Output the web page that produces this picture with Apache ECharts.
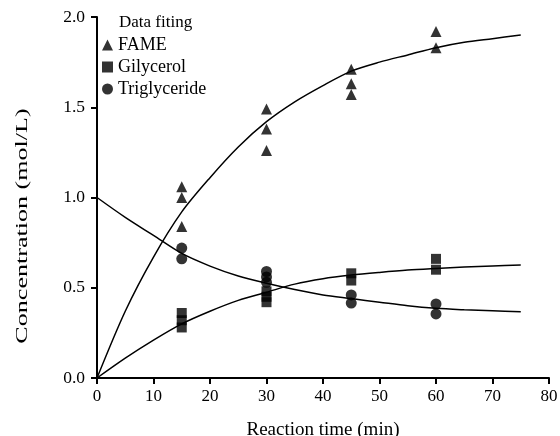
<!DOCTYPE html>
<html>
<head>
<meta charset="utf-8">
<script src="https://cdn.jsdelivr.net/npm/echarts@6/dist/echarts.min.js"></script>
<style>
  html, body { margin: 0; padding: 0; background: #fff; }
  #chart { width: 560px; height: 436px; }
</style>
</head>
<body>
<div id="chart"></div>
<script>
// measured points (time in min, concentration in mol/L)
const fameTime = [15, 15, 15, 30, 30, 30, 45, 45, 45, 60, 60]
const fameConc = [1.06, 1.00, 0.84, 1.49, 1.38, 1.26, 1.71, 1.63, 1.57, 1.92, 1.83]
const glyTime = [15, 15, 15, 30, 30, 30, 45, 45, 60, 60]
const glyConc = [0.36, 0.32, 0.28, 0.48, 0.45, 0.42, 0.58, 0.54, 0.66, 0.60]
const triTime = [15, 15, 30, 30, 30, 45, 45, 60, 60]
const triConc = [0.72, 0.66, 0.59, 0.56, 0.53, 0.46, 0.415, 0.41, 0.355]

// fitted curves, every 5 min
const fitTime = [0, 5, 10, 15, 20, 25, 30, 35, 40, 45, 50, 55, 60, 65, 70, 75]
const fitFame = [0, 0.37, 0.67, 0.92, 1.11, 1.28, 1.42, 1.53, 1.62, 1.70, 1.75, 1.79, 1.83, 1.86, 1.88, 1.90]
const fitGly = [0, 0.11, 0.21, 0.30, 0.37, 0.43, 0.475, 0.52, 0.55, 0.57, 0.585, 0.598, 0.607, 0.615, 0.621, 0.626]
const fitTri = [1.0, 0.89, 0.79, 0.69, 0.62, 0.565, 0.525, 0.49, 0.46, 0.44, 0.42, 0.40, 0.386, 0.378, 0.372, 0.367]

const xTicks = [0, 10, 20, 30, 40, 50, 60, 70, 80]
const yTicks = [0, 0.5, 1.0, 1.5, 2.0]

const font = 'Liberation Serif'
const zip = (xs, ys) => xs.map((x, i) => [x, ys[i]])

const chart = echarts.init(document.getElementById('chart'))

const axisCommon = {
  axisLine: { show: true, lineStyle: { color: '#000', width: 2 } },
  axisTick: { show: true, length: 6, lineStyle: { color: '#000', width: 2 } },
  splitLine: { show: false }
}

const option = {
  animation: false,
  backgroundColor: '#fff',
  grid: { left: 97, right: 11, top: 17, bottom: 58, outerBoundsMode: 'none' },
  legend: {
    data: ['FAME', 'Gilycerol', 'Triglyceride'],
    orient: 'vertical',
    left: 102,
    top: 36,
    padding: 0,
    itemWidth: 11,
    itemHeight: 11,
    itemGap: 4,
    textStyle: { color: '#000', fontFamily: font, fontSize: 18 },
    selectedMode: false
  },
  graphic: [
    {
      type: 'text',
      left: 119,
      top: 14,
      style: { text: 'Data fiting', fill: '#000', font: '17px "Liberation Serif"' }
    },
    {
      // y axis title, drawn long and narrow like the source figure
      type: 'text',
      x: 23,
      y: 226,
      rotation: Math.PI / 2,
      scaleX: 1.58,
      style: {
        text: 'Concentration (mol/L)', fill: '#000',
        font: '16.5px "Liberation Serif"', align: 'center', verticalAlign: 'middle'
      }
    }
  ],
  xAxis: Object.assign({}, axisCommon, {
    type: 'value',
    min: xTicks[0],
    max: xTicks[xTicks.length - 1],
    interval: 10,
    name: 'Reaction time (min)',
    nameLocation: 'middle',
    nameGap: 43,
    nameTextStyle: { color: '#000', fontFamily: font, fontSize: 19 },
    axisLabel: { color: '#000', fontFamily: font, fontSize: 17, margin: 10 }
  }),
  yAxis: Object.assign({}, axisCommon, {
    type: 'value',
    min: yTicks[0],
    max: yTicks[yTicks.length - 1],
    interval: 0.5,
    axisLabel: { color: '#000', fontFamily: font, fontSize: 17.5, margin: 12, formatter: v => v.toFixed(1) }
  }),
  series: [
    {
      name: 'FAME', type: 'scatter', symbol: 'triangle', symbolSize: 11,
      itemStyle: { color: '#000' }, data: zip(fameTime, fameConc), z: 3
    },
    {
      name: 'Gilycerol', type: 'scatter', symbol: 'rect', symbolSize: 10,
      itemStyle: { color: '#000' }, data: zip(glyTime, glyConc), z: 3
    },
    {
      name: 'Triglyceride', type: 'scatter', symbol: 'circle', symbolSize: 11,
      itemStyle: { color: '#000' }, data: zip(triTime, triConc), z: 3
    },
    {
      name: 'FAME fit', type: 'line', smooth: 0.3, showSymbol: false,
      lineStyle: { color: '#000', width: 1.5 }, data: zip(fitTime, fitFame)
    },
    {
      name: 'Gilycerol fit', type: 'line', smooth: 0.3, showSymbol: false,
      lineStyle: { color: '#000', width: 1.5 }, data: zip(fitTime, fitGly)
    },
    {
      name: 'Triglyceride fit', type: 'line', smooth: 0.3, showSymbol: false,
      lineStyle: { color: '#000', width: 1.5 }, data: zip(fitTime, fitTri)
    }
  ]
}

chart.setOption(option)
</script>
</body>
</html>
